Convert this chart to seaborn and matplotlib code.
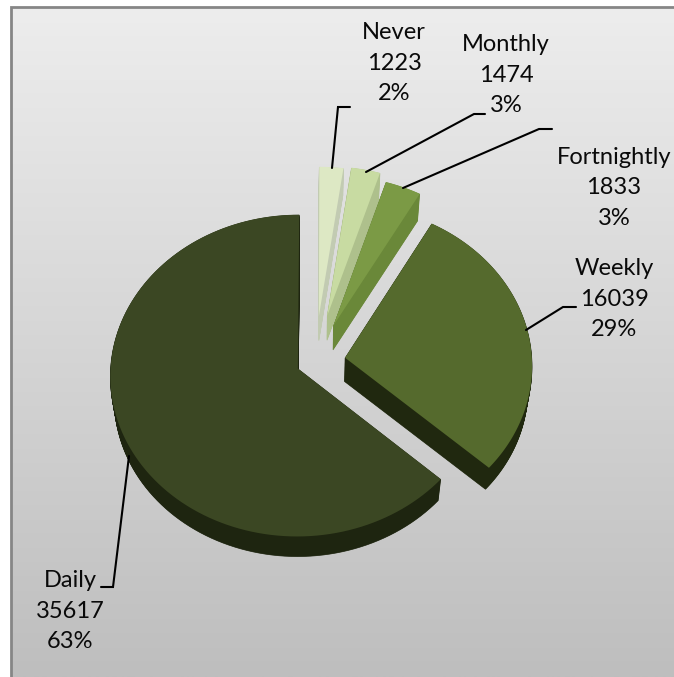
import numpy as np
import matplotlib
matplotlib.use('Agg')
import matplotlib.pyplot as plt
from matplotlib.colors import LinearSegmentedColormap
from matplotlib.patches import Polygon
import seaborn as sns

# values
labels = ['Daily', 'Never', 'Monthly', 'Fortnightly', 'Weekly']
counts = [35617, 1223, 1474, 1833, 16039]
explode = [0.10, 0.29, 0.30, 0.25, 0.163]

top_colors = ['#3b4723', '#dde8c4', '#c8dba2', '#7b9a45', '#556a2d']
side_colors = ['#1e2510', '#c2cbb2', '#aec08c', '#6a8839', '#20280f']

# label centres and leader lines, in pixels
label_pos = [(70, 611), (394, 63), (506, 75), (614, 188), (614, 299)]
leaders = [
    [(129, 456), (113, 587), (101, 587)],
    [(332, 168), (338, 107), (350, 107)],
    [(366, 172), (474, 114), (485, 114)],
    [(403, 188), (539, 129), (552, 129)],
    [(526, 330), (563, 307), (576, 307)],
]

sns.set_style('white')
plt.rcParams['font.family'] = ['Lato', 'DejaVu Sans']

fig, ax = plt.subplots(figsize=(6.74, 6.77), dpi=100)
fig.subplots_adjust(left=0, right=1, bottom=0, top=1)

wedges, _ = ax.pie(counts, explode=explode, startangle=-42, counterclock=False)

cx, cy = 315, 362
rx, ry, k = 187, 160, 0.044


# tilt the flat pie into pixel coordinates
def project(x, y):
    w = 1 + k * y
    return cx + rx * x / w, cy - ry * y / w


def lower(px, py, t):
    depth = np.clip(27 - (py - 190) * 0.02, 20, 27)
    return cx + (px - cx) * (1 - 0.02 * t), py + depth * t


# back slices first, Daily last
layer = [5, 1, 2, 3, 4]
for i in [1, 2, 3, 4, 0]:
    wd = wedges[i]
    wd.set_visible(False)
    theta = np.radians(np.linspace(wd.theta1, wd.theta2, 120))
    x = np.r_[wd.center[0], wd.center[0] + wd.r * np.cos(theta)]
    y = np.r_[wd.center[1], wd.center[1] + wd.r * np.sin(theta)]
    px, py = project(x, y)
    for t in np.linspace(1, 0.02, 30):
        lx, ly = lower(px, py, t)
        ax.add_patch(Polygon(np.c_[lx, ly], closed=True, fc=side_colors[i], ec=side_colors[i], lw=0.5, zorder=2 + layer[i]))
    ax.add_patch(Polygon(np.c_[px, py], closed=True, fc=top_colors[i], ec='none', zorder=2.5 + layer[i]))

# chart area background
bg = LinearSegmentedColormap.from_list('bg', ['#ededed', '#bebebe'])
ax.imshow(np.linspace(0, 1, 256).reshape(-1, 1), extent=(11, 674, 677, 7), cmap=bg, aspect='auto', zorder=0)
ax.plot([11, 11, 674], [677, 7, 7], color='#868686', lw=2, zorder=1, solid_joinstyle='miter')

total = sum(counts)
for name, n, pos, line in zip(labels, counts, label_pos, leaders):
    ax.text(pos[0], pos[1], f'{name}\n{n}\n{n / total:.0%}', ha='center', va='center',
            fontsize=17, linespacing=1.56, color='#0a0a0a', zorder=20)
    ax.plot(*zip(*line), color='black', lw=1.5, zorder=19, solid_joinstyle='miter')

ax.set_aspect('auto')
ax.set_xlim(0, 674)
ax.set_ylim(677, 0)
ax.axis('off')

fig.savefig('out.png', dpi=100, facecolor='white')
